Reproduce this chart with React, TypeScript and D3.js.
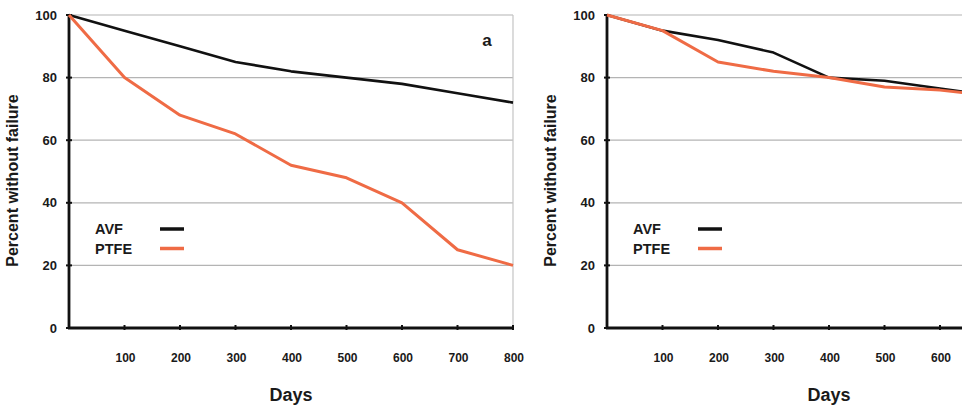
import React from "react";
import * as d3 from "d3";

const days = [0, 100, 200, 300, 400, 500, 600, 700, 800];
const avfA = [100, 95, 90, 85, 82, 80, 78, 75, 72];
const ptfeA = [100, 80, 68, 62, 52, 48, 40, 25, 20];
const avfB = [100, 95, 92, 88, 80, 79, 76.5, 74];
const ptfeB = [100, 95, 85, 82, 80, 77, 76, 74];
const xTicks = [100, 200, 300, 400, 500, 600, 700, 800];
const yTicks = [0, 20, 40, 60, 80, 100];
const seriesNames = ["AVF", "PTFE"];

const W = 962;
const H = 408;
const ORANGE = "#ef6b45";
const FONT = "'Liberation Sans', Arial, sans-serif";

const y = d3.scaleLinear().domain([0, 100]).range([328, 15]);

function Panel({ x0, avf, ptfe, border, label }: { x0: number; avf: number[]; ptfe: number[]; border: boolean; label?: string }) {
  const x = d3.scaleLinear().domain([0, 800]).range([x0, x0 + 444]);
  const line = d3
    .line<number>()
    .x((_, i) => x(days[i]))
    .y((d) => y(d));
  const right = Math.min(x(800), W);
  const visibleTicks = xTicks.filter((t) => x(t) + 16 <= W);
  return (
    <g>
      {yTicks.filter((t) => t > 0).map((t) => (
        <line key={"g" + t} x1={x(0)} x2={right} y1={y(t)} y2={y(t)} stroke="#b4b4b4" strokeWidth={1.2} />
      ))}
      {border && <line x1={right} x2={right} y1={y(100)} y2={y(0)} stroke="#c4c4c4" strokeWidth={1.2} />}
      {yTicks.map((t) => (
        <g key={"y" + t}>
          <line x1={x(0) - 3} x2={x(0) + 3} y1={y(t)} y2={y(t)} stroke="#111" strokeWidth={2} />
          <text x={x(0) - 12} y={y(t) + 4.5} textAnchor="end" fontFamily={FONT} fontWeight="bold" fontSize={13} fill="#1a1a1a">
            {t}
          </text>
        </g>
      ))}
      {visibleTicks.map((t) => (
        <g key={"x" + t}>
          <line x1={x(t)} x2={x(t)} y1={y(0) - 3} y2={y(0) + 2} stroke="#111" strokeWidth={2} />
          <text x={x(t) + 1} y={y(0) + 34} textAnchor="middle" fontFamily={FONT} fontWeight="bold" fontSize={12} fill="#1a1a1a">
            {t}
          </text>
        </g>
      ))}
      <line x1={x(0)} x2={x(0)} y1={y(100)} y2={y(0) + 1} stroke="#111" strokeWidth={2.8} />
      <line x1={x(0) - 1} x2={right} y1={y(0)} y2={y(0)} stroke="#111" strokeWidth={2.8} />
      <path d={line(avf) || ""} fill="none" stroke="#111" strokeWidth={2.6} strokeLinejoin="round" />
      <path d={line(ptfe) || ""} fill="none" stroke={ORANGE} strokeWidth={3} strokeLinejoin="round" />
      <text x={x(400)} y={y(0) + 73} textAnchor="middle" fontFamily={FONT} fontWeight="bold" fontSize={18} fill="#1a1a1a">
        Days
      </text>
      <text
        transform={`translate(${x0 - 51},${(y(0) + y(100)) / 2 + 9}) rotate(-90)`}
        textAnchor="middle"
        fontFamily={FONT}
        fontWeight="bold"
        fontSize={16}
        fill="#1a1a1a"
      >
        Percent without failure
      </text>
      {seriesNames.map((n, i) => (
        <g key={n}>
          <text x={x0 + 26} y={234 + i * 19.5} fontFamily={FONT} fontWeight="bold" fontSize={14.5} fill="#1a1a1a">
            {n}
          </text>
          <line x1={x0 + 91} x2={x0 + 115} y1={229 + i * 19.5} y2={229 + i * 19.5} stroke={i === 0 ? "#111" : ORANGE} strokeWidth={3.5} />
        </g>
      ))}
      {label && (
        <text x={x(800) - 26} y={46} textAnchor="middle" fontFamily={FONT} fontWeight="bold" fontSize={17} fill="#1a1a1a">
          {label}
        </text>
      )}
    </g>
  );
}

export default function App() {
  return (
    <svg width={W} height={H} style={{ position: "absolute", left: 0, top: 0, background: "#fff" }}>
      <rect width={W} height={H} fill="#fff" />
      <Panel x0={69} avf={avfA} ptfe={ptfeA} border={true} label="a" />
      <Panel x0={607} avf={avfB} ptfe={ptfeB} border={false} />
    </svg>
  );
}
